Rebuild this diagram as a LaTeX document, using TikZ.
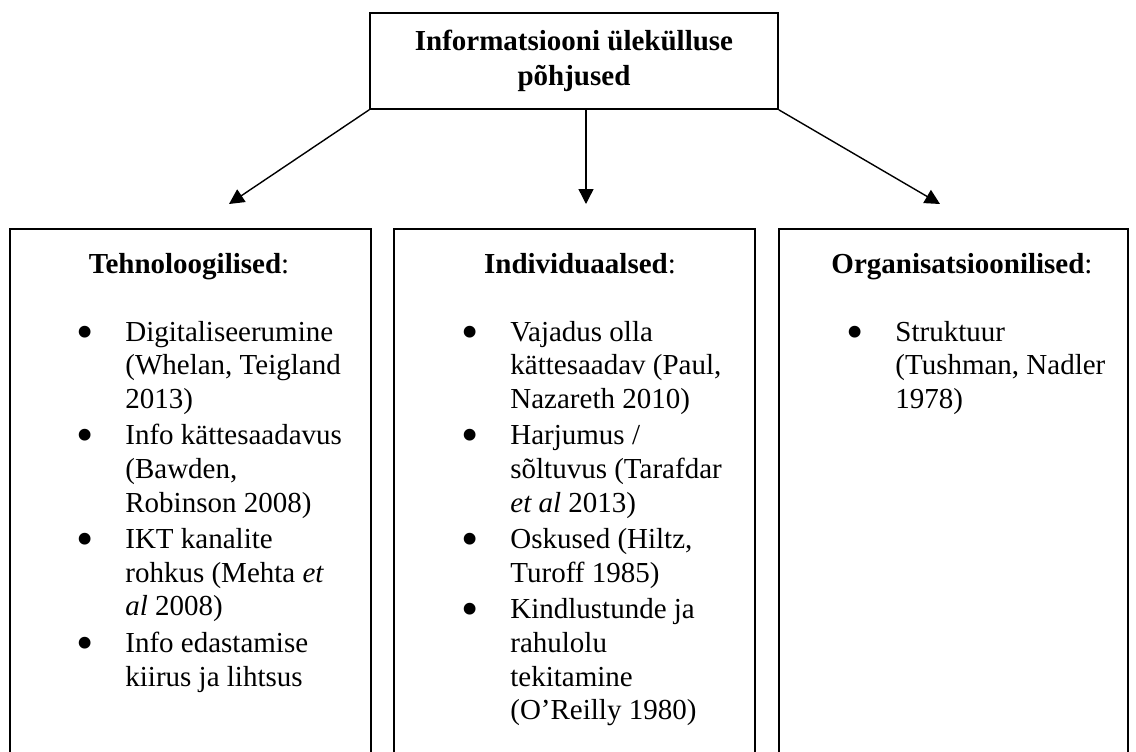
\documentclass[tikz,border=0pt]{standalone}
\usepackage{fontspec}
\usepackage{graphicx}
\setmainfont{Liberation Serif}
\usetikzlibrary{arrows.meta}

\newcommand{\causefont}{\fontsize{14.5pt}{16.8pt}\selectfont}
\newcommand{\causebullet}{\makebox[0pt]{\raisebox{-3.5pt}{\scalebox{1.7}{\textbullet}}}}
\newenvironment{causelist}{%
  \begin{list}{\causebullet}{%
    \setlength\leftmargin{20pt}\setlength\labelwidth{0pt}%
    \setlength\labelsep{20pt}\setlength\itemindent{0pt}%
    \setlength\itemsep{1.5pt}\setlength\parsep{0pt}%
    \setlength\topsep{0pt}\setlength\partopsep{0pt}}}%
  {\end{list}}

\tikzset{
  causebox/.style={draw, line width=0.8pt, inner sep=0pt, align=center},
  groupbox/.style={draw, line width=0.8pt, inner sep=0pt, anchor=north,
    minimum height=271pt},
  grouphead/.style={anchor=base, inner sep=0pt},
  grouplist/.style={anchor=base west, inner sep=0pt},
  causearrow/.style={line width=0.7pt, -{Triangle[length=7.5pt,width=7.5pt]}}
}

\begin{document}
\begin{tikzpicture}[x=0.5pt, y=-0.5pt, every node/.style={font=\causefont}]
    \clip (0,0) rectangle (1136,751);

    % top box
    \node[causebox, minimum width=204pt, minimum height=48pt] (causes) at (574,61)
    {\textbf{Informatsiooni ülekülluse}\\[1pt]\textbf{põhjused}};

    % the three groups
    \node[groupbox, minimum width=180.5pt] (tehnoBox) at (190.5,228) {};
    \node[groupbox, minimum width=180.5pt] (indivBox) at (574.5,228) {};
    \node[groupbox, minimum width=174.5pt] (orgBox) at (953.5,228) {};

    \node[grouphead] (tehnoHead) at (189,273) {\textbf{Tehnoloogilised}:};
    \node[grouphead] (indivHead) at (580,273) {\textbf{Individuaalsed}:};
    \node[grouphead] (orgHead) at (962,273) {\textbf{Organisatsioonilised}:};

    \node[grouplist] (tehnoList) at (85,341) {\begin{minipage}[t]{160pt}\raggedright
      \begin{causelist}
        \item Digitaliseerumine\\(Whelan, Teigland\\2013)
        \item Info kättesaadavus\\(Bawden,\\Robinson 2008)
        \item IKT kanalite\\rohkus (Mehta \textit{et}\\\textit{al} 2008)
        \item Info edastamise\\kiirus ja lihtsus
      \end{causelist}\end{minipage}};

    \node[grouplist] (indivList) at (470,341) {\begin{minipage}[t]{160pt}\raggedright
      \begin{causelist}
        \item Vajadus olla\\kättesaadav (Paul,\\Nazareth 2010)
        \item Harjumus /\\sõltuvus (Tarafdar\\\textit{et al} 2013)
        \item Oskused (Hiltz,\\Turoff 1985)
        \item Kindlustunde ja\\rahulolu\\tekitamine\\(O’Reilly 1980)
      \end{causelist}\end{minipage}};

    \node[grouplist] (orgList) at (855,341) {\begin{minipage}[t]{160pt}\raggedright
      \begin{causelist}
        \item Struktuur\\(Tushman, Nadler\\1978)
      \end{causelist}\end{minipage}};

    % arrows
    \coordinate (tehnoTip) at (229,204);
    \coordinate (indivTip) at (586,204);
    \coordinate (orgTip) at (940,204);
    \draw[causearrow] (causes.south west) -- (tehnoTip);
    \draw[causearrow] (indivTip |- causes.south) -- (indivTip);
    \draw[causearrow] (causes.south east) -- (orgTip);
\end{tikzpicture}
\end{document}
